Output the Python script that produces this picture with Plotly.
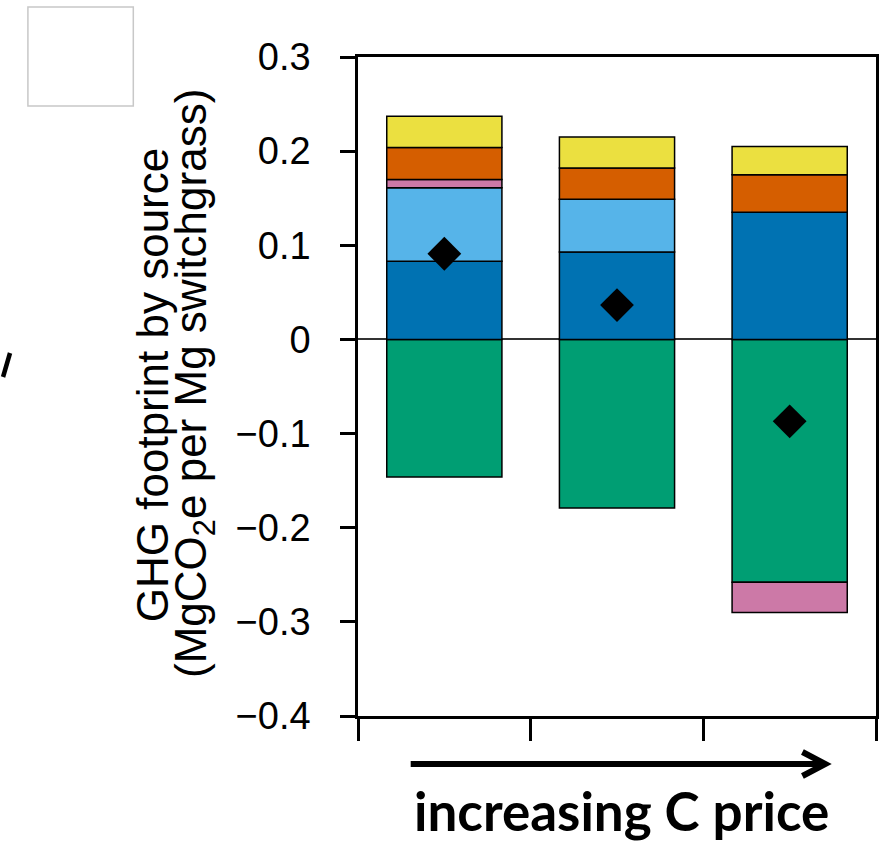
import plotly.graph_objects as go

# ---- data ----
scenarios = [1, 2, 3]
green_soil = [-0.146, -0.179, -0.258]
dark_blue = [0.083, 0.093, 0.135]
light_blue = [0.078, 0.056, None]
pink = [0.009, None, -0.032]
orange = [0.034, 0.033, 0.040]
yellow = [0.033, 0.033, 0.030]
net_total = [0.091, 0.0365, -0.087]

y_tickvals = [-0.4, -0.3, -0.2, -0.1, 0, 0.1, 0.2, 0.3]
y_ticktext = ["\u22120.4", "\u22120.3", "\u22120.2", "\u22120.1", "0", "0.1", "0.2", "0.3"]
x_tickvals = [0.5, 1.5, 2.5, 3.5]

series = [
    ("green", green_soil, "#009E73"),
    ("darkblue", dark_blue, "#0072B2"),
    ("lightblue", light_blue, "#56B4E9"),
    ("pink", pink, "#CC79A7"),
    ("orange", orange, "#D55E00"),
    ("yellow", yellow, "#EBE040"),
]

fig = go.Figure()
for name, vals, col in series:
    fig.add_trace(go.Bar(
        x=scenarios, y=vals, name=name, width=0.667,
        marker=dict(color=col, line=dict(color="black", width=1.5)),
        showlegend=False,
    ))

fig.add_trace(go.Scatter(
    x=scenarios, y=net_total, mode="markers",
    marker=dict(symbol="diamond", size=26, color="black"),
    showlegend=False,
))

W, H = 885, 842
L, R, T, B = 358, 6, 57, 126
pw, ph = W - L - R, H - T - B

def px(x):
    return (x - L) / pw

def py(y):
    return (H - B - y) / ph

fig.update_layout(
    width=W, height=H,
    margin=dict(l=L, r=R, t=T, b=B),
    barmode="relative",
    plot_bgcolor="white", paper_bgcolor="white",
    font=dict(family="Liberation Sans, Arial", color="black"),
    xaxis=dict(
        range=[0.5, 3.5], tickvals=x_tickvals, showticklabels=False,
        ticks="outside", ticklen=22, tickwidth=2.5, tickcolor="black",
        showline=True, linecolor="black", linewidth=2.5, mirror=True,
        showgrid=False, zeroline=False,
    ),
    yaxis=dict(
        range=[-0.4, 0.3], tickvals=y_tickvals, ticktext=y_ticktext,
        ticks="outside", ticklen=15, tickwidth=2.5, tickcolor="black",
        tickfont=dict(size=38, family="Liberation Sans, Arial", color="black"),
        ticklabelstandoff=22,
        showline=True, linecolor="black", linewidth=2.5, mirror=True,
        showgrid=False, zeroline=True, zerolinecolor="#333333", zerolinewidth=1.5,
    ),
)

# y-axis title (two lines)
fig.add_annotation(
    xref="paper", yref="paper", x=px(151), y=py(385),
    text="GHG footprint by source", textangle=-90, showarrow=False,
    font=dict(size=44, family="Liberation Sans, Arial", color="black"),
    xanchor="center", yanchor="middle",
)
fig.add_annotation(
    xref="paper", yref="paper", x=px(193), y=py(383),
    text="(MgCO<sub>2</sub>e per Mg switchgrass)", textangle=-90, showarrow=False,
    font=dict(size=44, family="Liberation Sans, Arial", color="black"),
    xanchor="center", yanchor="middle",
)

# bottom label
fig.add_annotation(
    xref="paper", yref="paper", x=px(623), y=py(810),
    text="<b>increasing C price</b>", showarrow=False,
    font=dict(size=53, family="Lato", color="black"),
    xanchor="center", yanchor="middle",
)

# arrow
fig.add_shape(type="line", xref="paper", yref="paper",
              x0=px(411), y0=py(764), x1=px(826), y1=py(764),
              line=dict(color="black", width=6))
fig.add_shape(type="path", xref="paper", yref="paper",
              path=f"M {px(805)},{py(752)} L {px(828)},{py(764)} L {px(805)},{py(776)}",
              line=dict(color="black", width=6))

# gray box top-left
fig.add_shape(type="rect", xref="paper", yref="paper",
              x0=px(26), y0=py(7), x1=px(132), y1=py(106),
              line=dict(color="#c8c8c8", width=1.5), fillcolor="white")

# stray slash mark at left edge
fig.add_shape(type="line", xref="paper", yref="paper",
              x0=px(8), y0=py(353), x1=px(1), y1=py(377),
              line=dict(color="black", width=4.5))

fig.write_html("out.html", config={"displayModeBar": False},
               post_script="document.body.style.margin='0';document.body.style.padding='0';")
